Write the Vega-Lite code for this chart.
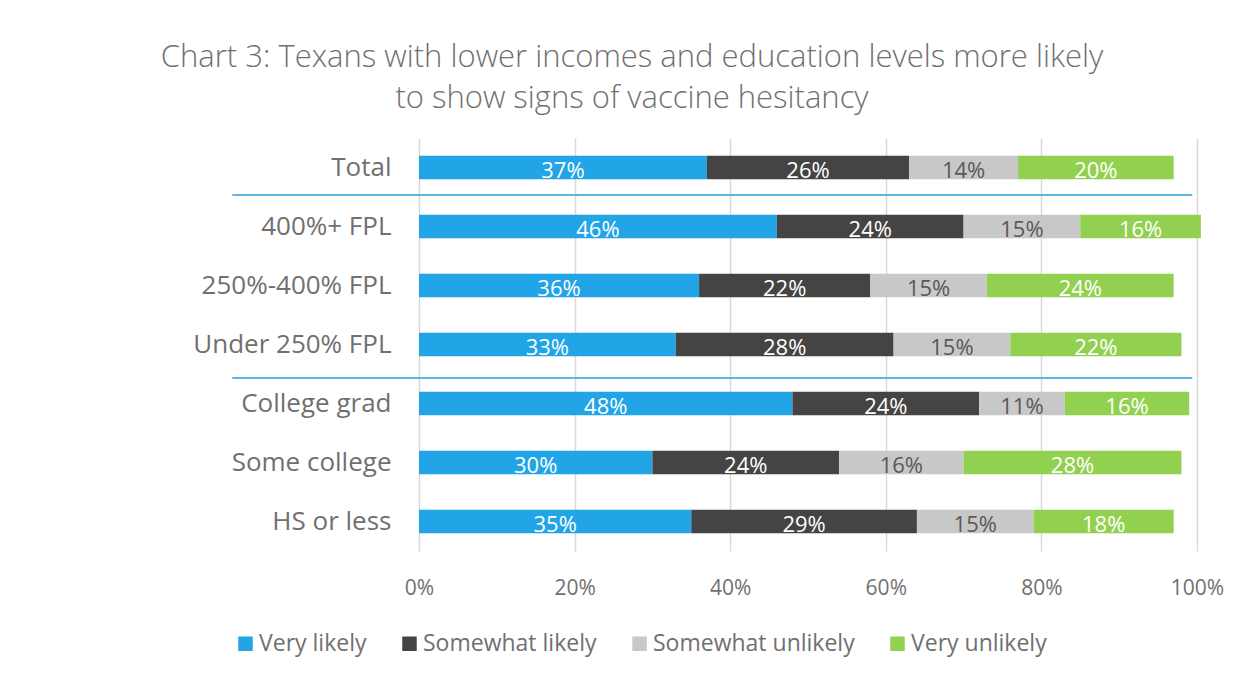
{
  "$schema": "https://vega.github.io/schema/vega-lite/v6.json",
  "width": 778,
  "height": 413,
  "autosize": {"type": "none"},
  "padding": {"left": 419, "top": 138, "right": 51, "bottom": 126},
  "background": "white",
  "config": {"view": {"stroke": null}, "font": "Open Sans"},
  "title": {
    "text": ["Chart 3: Texans with lower incomes and education levels more likely", "to show signs of vaccine hesitancy"],
    "fontSize": 31,
    "fontWeight": 300,
    "color": "#707070",
    "font": "Open Sans",
    "anchor": "middle",
    "frame": "group",
    "dx": -176,
    "offset": 23,
    "lineHeight": 41
  },
  "datasets": {
    "survey": [
      {"cat": "Total", "resp": "Very likely", "k": 1, "v": 0.37},
      {"cat": "Total", "resp": "Somewhat likely", "k": 2, "v": 0.26},
      {"cat": "Total", "resp": "Somewhat unlikely", "k": 3, "v": 0.14},
      {"cat": "Total", "resp": "Very unlikely", "k": 4, "v": 0.20},
      {"cat": "400%+ FPL", "resp": "Very likely", "k": 1, "v": 0.46},
      {"cat": "400%+ FPL", "resp": "Somewhat likely", "k": 2, "v": 0.24},
      {"cat": "400%+ FPL", "resp": "Somewhat unlikely", "k": 3, "v": 0.15},
      {"cat": "400%+ FPL", "resp": "Very unlikely", "k": 4, "v": 0.155},
      {"cat": "250%-400% FPL", "resp": "Very likely", "k": 1, "v": 0.36},
      {"cat": "250%-400% FPL", "resp": "Somewhat likely", "k": 2, "v": 0.22},
      {"cat": "250%-400% FPL", "resp": "Somewhat unlikely", "k": 3, "v": 0.15},
      {"cat": "250%-400% FPL", "resp": "Very unlikely", "k": 4, "v": 0.24},
      {"cat": "Under 250% FPL", "resp": "Very likely", "k": 1, "v": 0.33},
      {"cat": "Under 250% FPL", "resp": "Somewhat likely", "k": 2, "v": 0.28},
      {"cat": "Under 250% FPL", "resp": "Somewhat unlikely", "k": 3, "v": 0.15},
      {"cat": "Under 250% FPL", "resp": "Very unlikely", "k": 4, "v": 0.22},
      {"cat": "College grad", "resp": "Very likely", "k": 1, "v": 0.48},
      {"cat": "College grad", "resp": "Somewhat likely", "k": 2, "v": 0.24},
      {"cat": "College grad", "resp": "Somewhat unlikely", "k": 3, "v": 0.11},
      {"cat": "College grad", "resp": "Very unlikely", "k": 4, "v": 0.16},
      {"cat": "Some college", "resp": "Very likely", "k": 1, "v": 0.30},
      {"cat": "Some college", "resp": "Somewhat likely", "k": 2, "v": 0.24},
      {"cat": "Some college", "resp": "Somewhat unlikely", "k": 3, "v": 0.16},
      {"cat": "Some college", "resp": "Very unlikely", "k": 4, "v": 0.28},
      {"cat": "HS or less", "resp": "Very likely", "k": 1, "v": 0.35},
      {"cat": "HS or less", "resp": "Somewhat likely", "k": 2, "v": 0.29},
      {"cat": "HS or less", "resp": "Somewhat unlikely", "k": 3, "v": 0.15},
      {"cat": "HS or less", "resp": "Very unlikely", "k": 4, "v": 0.18}
    ]
  },
  "layer": [
    {
      "data": {"name": "survey"},
      "transform": [
        {"stack": "v", "groupby": ["cat"], "sort": [{"field": "k"}], "as": ["v0", "v1"]}
      ],
      "mark": {"type": "bar"},
      "encoding": {
        "y": {
          "field": "cat",
          "type": "nominal",
          "sort": ["Total", "400%+ FPL", "250%-400% FPL", "Under 250% FPL", "College grad", "Some college", "HS or less"],
          "scale": {"paddingInner": 0.6, "paddingOuter": 0.3},
          "axis": {
            "title": null,
            "ticks": false,
            "domain": false,
            "grid": false,
            "labelFontSize": 26,
            "labelColor": "#707070",
            "labelPadding": 28,
            "labelLimit": 400,
            "labelFont": "Open Sans"
          }
        },
        "x": {
          "field": "v0",
          "type": "quantitative",
          "scale": {"domain": [0, 1]},
          "axis": {
            "title": null,
            "format": ".0%",
            "values": [0, 0.2, 0.4, 0.6, 0.8, 1],
            "ticks": false,
            "domain": false,
            "grid": true,
            "gridColor": "#d9d9d9",
            "gridWidth": 1.5,
            "labelFontSize": 21,
            "labelColor": "#707070",
            "labelPadding": 26,
            "labelFlush": false,
            "labelFont": "Open Sans"
          }
        },
        "x2": {"field": "v1"},
        "color": {
          "field": "resp",
          "type": "nominal",
          "sort": ["Very likely", "Somewhat likely", "Somewhat unlikely", "Very unlikely"],
          "scale": {
            "domain": ["Very likely", "Somewhat likely", "Somewhat unlikely", "Very unlikely"],
            "range": ["#21A5E6", "#444444", "#C8C8C8", "#92D050"]
          },
          "legend": {
            "title": null,
            "orient": "none",
            "legendX": -185,
            "legendY": 494,
            "direction": "horizontal",
            "columns": 4,
            "symbolType": "square",
            "symbolSize": 210,
            "symbolStrokeWidth": 0,
            "labelFontSize": 23,
            "labelColor": "#707070",
            "labelFont": "Open Sans",
            "labelLimit": 400,
            "labelOffset": 2,
            "columnPadding": 31,
            "padding": 0
          }
        }
      }
    },
    {
      "data": {"name": "survey"},
      "transform": [
        {"stack": "v", "groupby": ["cat"], "sort": [{"field": "k"}], "as": ["v0", "v1"]},
        {"calculate": "(datum.v0 + datum.v1) / 2", "as": "mid"}
      ],
      "mark": {"type": "text", "fontSize": 22, "font": "Open Sans", "dy": 3},
      "encoding": {
        "y": {
          "field": "cat",
          "type": "nominal",
          "sort": ["Total", "400%+ FPL", "250%-400% FPL", "Under 250% FPL", "College grad", "Some college", "HS or less"]
        },
        "x": {"field": "mid", "type": "quantitative"},
        "text": {"field": "v", "type": "quantitative", "format": ".0%"},
        "color": {
          "condition": {"test": "datum.resp === 'Somewhat unlikely'", "value": "#595959"},
          "value": "#ffffff"
        }
      }
    },
    {
      "data": {"values": [{"cat": "Total"}]},
      "mark": {"type": "rule", "color": "#5CB5E6", "strokeWidth": 2},
      "encoding": {
        "y": {
          "field": "cat",
          "type": "nominal",
          "bandPosition": 1.66,
          "sort": ["Total", "400%+ FPL", "250%-400% FPL", "Under 250% FPL", "College grad", "Some college", "HS or less"]
        },
        "x": {"datum": -0.24},
        "x2": {"datum": 0.994}
      }
    },
    {
      "data": {"values": [{"cat": "Under 250% FPL"}]},
      "mark": {"type": "rule", "color": "#5CB5E6", "strokeWidth": 2},
      "encoding": {
        "y": {
          "field": "cat",
          "type": "nominal",
          "bandPosition": 1.92,
          "sort": ["Total", "400%+ FPL", "250%-400% FPL", "Under 250% FPL", "College grad", "Some college", "HS or less"]
        },
        "x": {"datum": -0.24},
        "x2": {"datum": 0.994}
      }
    }
  ]
}
